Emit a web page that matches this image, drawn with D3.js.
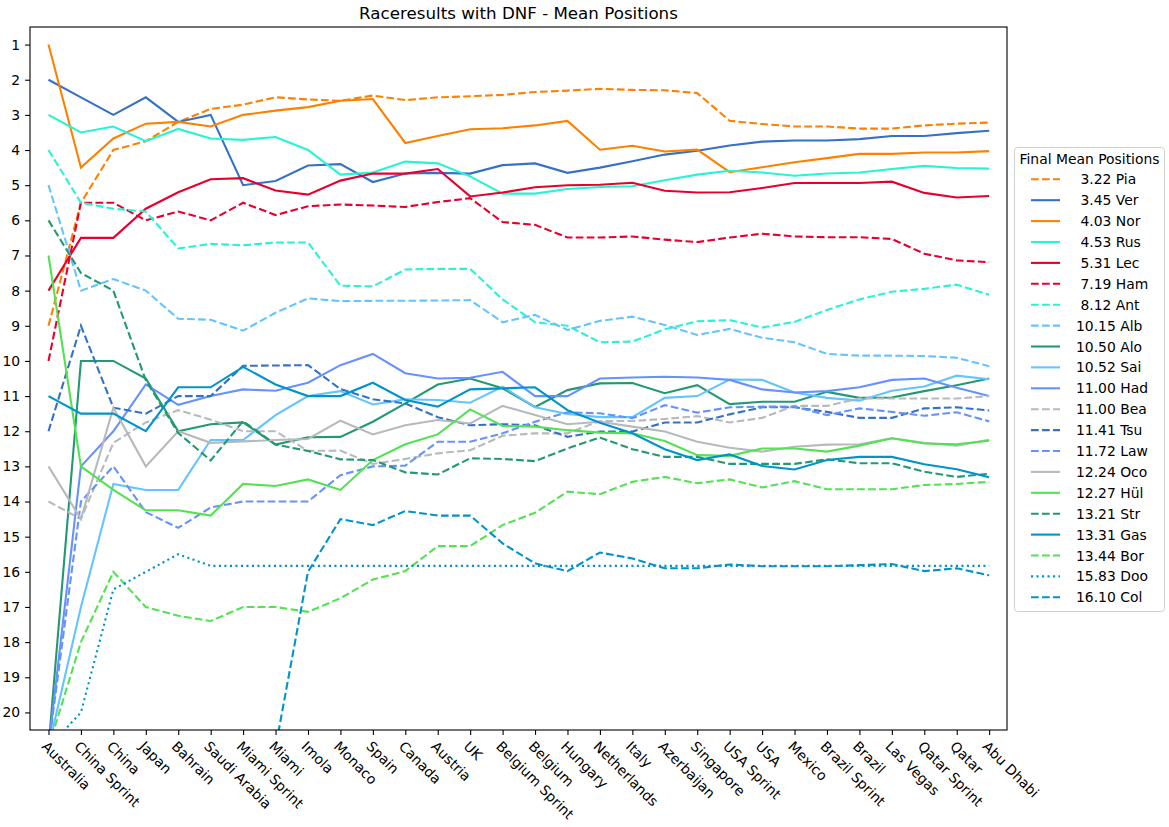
<!DOCTYPE html>
<html>
<head>
<meta charset="utf-8">
<script src="https://cdn.jsdelivr.net/npm/d3@7"></script>
<style>
  body { margin: 0; background: #fff; }
  svg { font-family: "DejaVu Sans", sans-serif; }
</style>
</head>
<body>
<div class="container"></div>
<script>
const WIDTH = 1169;
const HEIGHT = 827;
const LEFT = 30, RIGHT = 1007, TOP = 27, BOTTOM = 730;

// races, in season order
var races = ["Australia", "China Sprint", "China", "Japan", "Bahrain", "Saudi Arabia",
	"Miami Sprint", "Miami", "Imola", "Monaco", "Spain", "Canada", "Austria", "UK",
	"Belgium Sprint", "Belgium", "Hungary", "Netherlands", "Italy", "Azerbaijan",
	"Singapore", "USA Sprint", "USA", "Mexico", "Brazil Sprint", "Brazil", "Las Vegas",
	"Qatar Sprint", "Qatar", "Abu Dhabi"];

var yTicks = [1, 2, 3, 4, 5, 6, 7, 8, 9, 10, 11, 12, 13, 14, 15, 16, 17, 18, 19, 20];

// running mean position per driver (21 = no classified result yet)
var pia = [9, 5.5, 4, 3.75, 3.2, 2.83, 2.71, 2.5, 2.56, 2.6, 2.45, 2.58, 2.5, 2.47, 2.43, 2.35, 2.31, 2.26, 2.29, 2.3, 2.38, 3.17, 3.26, 3.33, 3.33, 3.39, 3.39, 3.3, 3.25, 3.22];
var ver = [2, 2.5, 3, 2.5, 3.2, 3, 5, 4.88, 4.44, 4.4, 4.91, 4.67, 4.65, 4.67, 4.43, 4.38, 4.65, 4.5, 4.32, 4.13, 4.02, 3.87, 3.76, 3.73, 3.73, 3.69, 3.6, 3.6, 3.52, 3.45];
var nor = [1, 4.5, 3.67, 3.25, 3.2, 3.33, 3, 2.88, 2.78, 2.6, 2.55, 3.8, 3.6, 3.41, 3.38, 3.3, 3.17, 3.99, 3.88, 4.04, 3.99, 4.63, 4.49, 4.35, 4.23, 4.11, 4.11, 4.07, 4.07, 4.03];
var rus = [3, 3.5, 3.33, 3.75, 3.4, 3.67, 3.71, 3.63, 4, 4.7, 4.64, 4.33, 4.38, 4.75, 5.24, 5.24, 5.11, 5.05, 5.03, 4.86, 4.7, 4.59, 4.64, 4.73, 4.67, 4.64, 4.54, 4.45, 4.51, 4.53];
var lec = [8, 6.5, 6.5, 5.67, 5.2, 4.83, 4.8, 5.15, 5.27, 4.87, 4.67, 4.67, 4.54, 5.32, 5.21, 5.06, 5, 4.99, 4.93, 5.16, 5.21, 5.2, 5.08, 4.94, 4.94, 4.94, 4.9, 5.22, 5.35, 5.31];
var ham = [10, 5.5, 5.5, 6, 5.75, 6, 5.5, 5.85, 5.6, 5.55, 5.58, 5.62, 5.48, 5.37, 6.05, 6.13, 6.49, 6.49, 6.46, 6.55, 6.62, 6.49, 6.38, 6.46, 6.48, 6.48, 6.53, 6.95, 7.14, 7.19];
var ant = [4, 5.5, 5.67, 5.75, 6.8, 6.67, 6.71, 6.63, 6.63, 7.86, 7.88, 7.4, 7.38, 7.38, 8.25, 8.9, 9.0, 9.47, 9.45, 9.1, 8.87, 8.84, 9.05, 8.89, 8.55, 8.25, 8.03, 7.95, 7.83, 8.12];
var alb = [5, 8, 7.67, 8, 8.8, 8.83, 9.14, 8.63, 8.22, 8.3, 8.29, 8.29, 8.28, 8.27, 8.9, 8.69, 9.12, 8.86, 8.74, 8.98, 9.26, 9.09, 9.34, 9.47, 9.8, 9.85, 9.85, 9.86, 9.91, 10.15];
var alo = [21, 10, 10, 10.5, 12, 11.8, 11.75, 12.38, 12.17, 12.16, 11.73, 11.21, 10.67, 10.5, 10.78, 11.31, 10.83, 10.64, 10.63, 10.92, 10.69, 11.23, 11.16, 11.16, 10.88, 11.05, 11.04, 10.86, 10.69, 10.5];
var sai = [21, 17, 13.5, 13.67, 13.67, 12.25, 12.25, 11.54, 11, 10.86, 11.24, 11.09, 11.11, 11.19, 10.73, 11.32, 11.51, 11.6, 11.6, 11.05, 11, 10.53, 10.54, 10.9, 11.05, 11.13, 10.85, 10.73, 10.42, 10.52];
var had = [21, 13, 12, 10.67, 11.25, 11, 10.81, 10.85, 10.62, 10.12, 9.8, 10.35, 10.5, 10.48, 10.31, 11, 11, 10.5, 10.47, 10.45, 10.47, 10.54, 10.81, 10.9, 10.86, 10.75, 10.54, 10.5, 10.76, 11];
var bea = [14, 14.5, 12.33, 11.75, 11.4, 11.67, 12, 12, 12.56, 12.55, 12.93, 12.79, 12.63, 12.54, 12.13, 12.06, 12.06, 11.71, 11.71, 11.65, 11.57, 11.75, 11.62, 11.28, 11.28, 11.07, 11.07, 11.07, 11.07, 11];
var tsu = [12, 9, 11.33, 11.5, 11, 11, 10.14, 10.13, 10.12, 10.8, 11.09, 11.21, 11.6, 11.83, 11.8, 11.83, 12.16, 12.01, 12.01, 11.75, 11.75, 11.52, 11.32, 11.32, 11.45, 11.62, 11.62, 11.35, 11.32, 11.41];
var law = [21, 14, 13, 14.3, 14.75, 14.17, 14, 14, 14, 13.25, 13, 12.98, 12.3, 12.3, 12.06, 11.73, 11.46, 11.49, 11.63, 11.26, 11.47, 11.32, 11.3, 11.3, 11.54, 11.35, 11.45, 11.56, 11.46, 11.72];
var oco = [13, 14.5, 11.33, 13, 12, 12.33, 12.29, 12.25, 12.22, 11.7, 12.09, 11.83, 11.68, 11.78, 11.28, 11.54, 11.8, 11.73, 11.87, 12.01, 12.3, 12.47, 12.58, 12.44, 12.38, 12.37, 12.2, 12.33, 12.41, 12.24];
var hul = [7, 13, 13.67, 14.25, 14.25, 14.4, 13.5, 13.56, 13.37, 13.67, 12.82, 12.37, 12.09, 11.38, 11.85, 11.87, 11.97, 12.04, 12.06, 12.28, 12.68, 12.7, 12.49, 12.49, 12.58, 12.41, 12.2, 12.35, 12.37, 12.27];
var str = [6, 7.5, 8, 10.55, 12.05, 12.83, 11.71, 12.38, 12.56, 12.8, 12.82, 13.17, 13.23, 12.77, 12.79, 12.85, 12.49, 12.18, 12.51, 12.73, 12.73, 12.93, 12.93, 12.93, 12.8, 12.91, 12.91, 13.15, 13.3, 13.21];
var gas = [11, 11.5, 11.5, 12, 10.75, 10.75, 10.17, 10.67, 11, 11, 10.62, 11.11, 11.3, 10.81, 10.78, 10.75, 11.4, 11.76, 12.06, 12.51, 12.82, 12.66, 12.99, 13.09, 12.82, 12.73, 12.73, 12.94, 13.08, 13.31];
var bor = [21, 18, 16, 17, 17.25, 17.4, 17, 17, 17.14, 16.75, 16.22, 15.98, 15.27, 15.27, 14.67, 14.32, 13.72, 13.79, 13.44, 13.3, 13.48, 13.37, 13.6, 13.42, 13.65, 13.65, 13.65, 13.53, 13.5, 13.44];
var doo = [21, 20, 16.5, 16, 15.5, 15.83, 15.83, 15.83, 15.83, 15.83, 15.83, 15.83, 15.83, 15.83, 15.83, 15.83, 15.83, 15.83, 15.83, 15.83, 15.83, 15.83, 15.83, 15.83, 15.83, 15.83, 15.83, 15.83, 15.83, 15.83];
var col = [21, 21, 21, 21, 21, 21, 21, 21, 16, 14.5, 14.67, 14.27, 14.4, 14.4, 15.19, 15.76, 15.98, 15.45, 15.62, 15.9, 15.9, 15.79, 15.84, 15.84, 15.84, 15.81, 15.78, 15.98, 15.9, 16.1];

// legend order
var drivers = ["Pia", "Ver", "Nor", "Rus", "Lec", "Ham", "Ant", "Alb", "Alo", "Sai", "Had",
	"Bea", "Tsu", "Law", "Oco", "Hül", "Str", "Gas", "Bor", "Doo", "Col"];
var series = [pia, ver, nor, rus, lec, ham, ant, alb, alo, sai, had,
	bea, tsu, law, oco, hul, str, gas, bor, doo, col];

// team colour + line style
var look = {
	Pia: ["#FF8000", "dash"], Ver: ["#3671C6", "solid"], Nor: ["#FF8000", "solid"],
	Rus: ["#27F4D2", "solid"], Lec: ["#E8002D", "solid"], Ham: ["#E8002D", "dash"],
	Ant: ["#27F4D2", "dash"], Alb: ["#64C4FF", "dash"], Alo: ["#229971", "solid"],
	Sai: ["#64C4FF", "solid"], Had: ["#6692FF", "solid"], Bea: ["#B6BABD", "dash"],
	Tsu: ["#3671C6", "dash"], Law: ["#6692FF", "dash"], Oco: ["#B6BABD", "solid"],
	"Hül": ["#52E252", "solid"], Str: ["#229971", "dash"], Gas: ["#0093CC", "solid"],
	Bor: ["#52E252", "dash"], Doo: ["#0093CC", "dot"], Col: ["#0093CC", "dash"]
};
var dashes = { solid: null, dash: "7.7,3.3", dot: "2.1,3.4" };

var load = function(){
	var xScale = d3.scaleLinear().domain([-0.57, 29.55]).range([LEFT, RIGHT]);
	var yScale = d3.scaleLinear().domain([0.5, 20.5]).range([TOP, BOTTOM]);

	var svg = d3.select(".container").append("svg")
		.attr("width", WIDTH)
		.attr("height", HEIGHT);

	svg.append("defs").append("clipPath").attr("id", "plot")
		.append("rect")
		.attr("x", LEFT).attr("y", TOP)
		.attr("width", RIGHT - LEFT).attr("height", BOTTOM - TOP);

	var line = d3.line()
		.x(function(d, i){ return xScale(i); })
		.y(function(d){ return yScale(d); });

	var lines = svg.append("g").attr("clip-path", "url(#plot)");
	drivers.forEach(function(name, k){
		lines.append("path")
			.attr("d", line(series[k]))
			.attr("fill", "none")
			.attr("stroke", look[name][0])
			.attr("stroke-width", 2.1)
			.attr("stroke-dasharray", dashes[look[name][1]]);
	});

	// axes
	var xAxis = d3.axisBottom(xScale)
		.tickValues(d3.range(races.length))
		.tickFormat(function(i){ return races[i]; })
		.tickSize(4.9).tickSizeOuter(0).tickPadding(4.9);
	var yAxis = d3.axisLeft(yScale)
		.tickValues(yTicks)
		.tickSize(4.9).tickSizeOuter(0).tickPadding(4.9);

	var xg = svg.append("g").attr("transform", "translate(0," + BOTTOM + ")").call(xAxis);
	var yg = svg.append("g").attr("transform", "translate(" + LEFT + ",0)").call(yAxis);
	[xg, yg].forEach(function(g){
		g.select(".domain").remove();
		g.selectAll("line").attr("stroke", "#000").attr("stroke-width", 1.1);
		g.selectAll("text").attr("fill", "#000").style("font-size", "13.9px")
			.style("font-family", "DejaVu Sans");
	});
	xg.selectAll("text")
		.attr("y", 0).attr("dy", "0.8em")
		.attr("transform", "translate(0,9.5) rotate(45)")
		.style("text-anchor", "start");

	svg.append("rect")
		.attr("x", LEFT).attr("y", TOP)
		.attr("width", RIGHT - LEFT).attr("height", BOTTOM - TOP)
		.attr("fill", "none").attr("stroke", "#000").attr("stroke-width", 1.1);

	svg.append("text")
		.attr("x", (LEFT + RIGHT) / 2).attr("y", 18.5)
		.attr("text-anchor", "middle")
		.style("font-size", "16.7px")
		.text("Raceresults with DNF - Mean Positions");

	// legend
	var legend = svg.append("g");
	legend.append("rect")
		.attr("x", 1014.5).attr("y", 147.5).attr("width", 150).attr("height", 464)
		.attr("rx", 3).attr("fill", "#fff").attr("fill-opacity", 0.8)
		.attr("stroke", "#d0d0d0").attr("stroke-width", 1);
	legend.append("text")
		.attr("x", 1089.5).attr("y", 158.5)
		.attr("text-anchor", "middle").attr("dominant-baseline", "central")
		.style("font-size", "13.9px")
		.text("Final Mean Positions");
	drivers.forEach(function(name, k){
		var y = 179.3 + k * 20.9;
		var last = series[k][series[k].length - 1];
		legend.append("line")
			.attr("x1", 1031).attr("x2", 1060).attr("y1", y).attr("y2", y)
			.attr("stroke", look[name][0]).attr("stroke-width", 2.1)
			.attr("stroke-dasharray", dashes[look[name][1]]);
		legend.append("text")
			.attr("x", 1076).attr("y", y)
			.attr("dominant-baseline", "central")
			.style("font-size", "13.9px").style("white-space", "pre")
			.text(last.toFixed(2).padStart(5, " ") + " " + name);
	});
};

window.onload = load;
</script>
</body>
</html>
